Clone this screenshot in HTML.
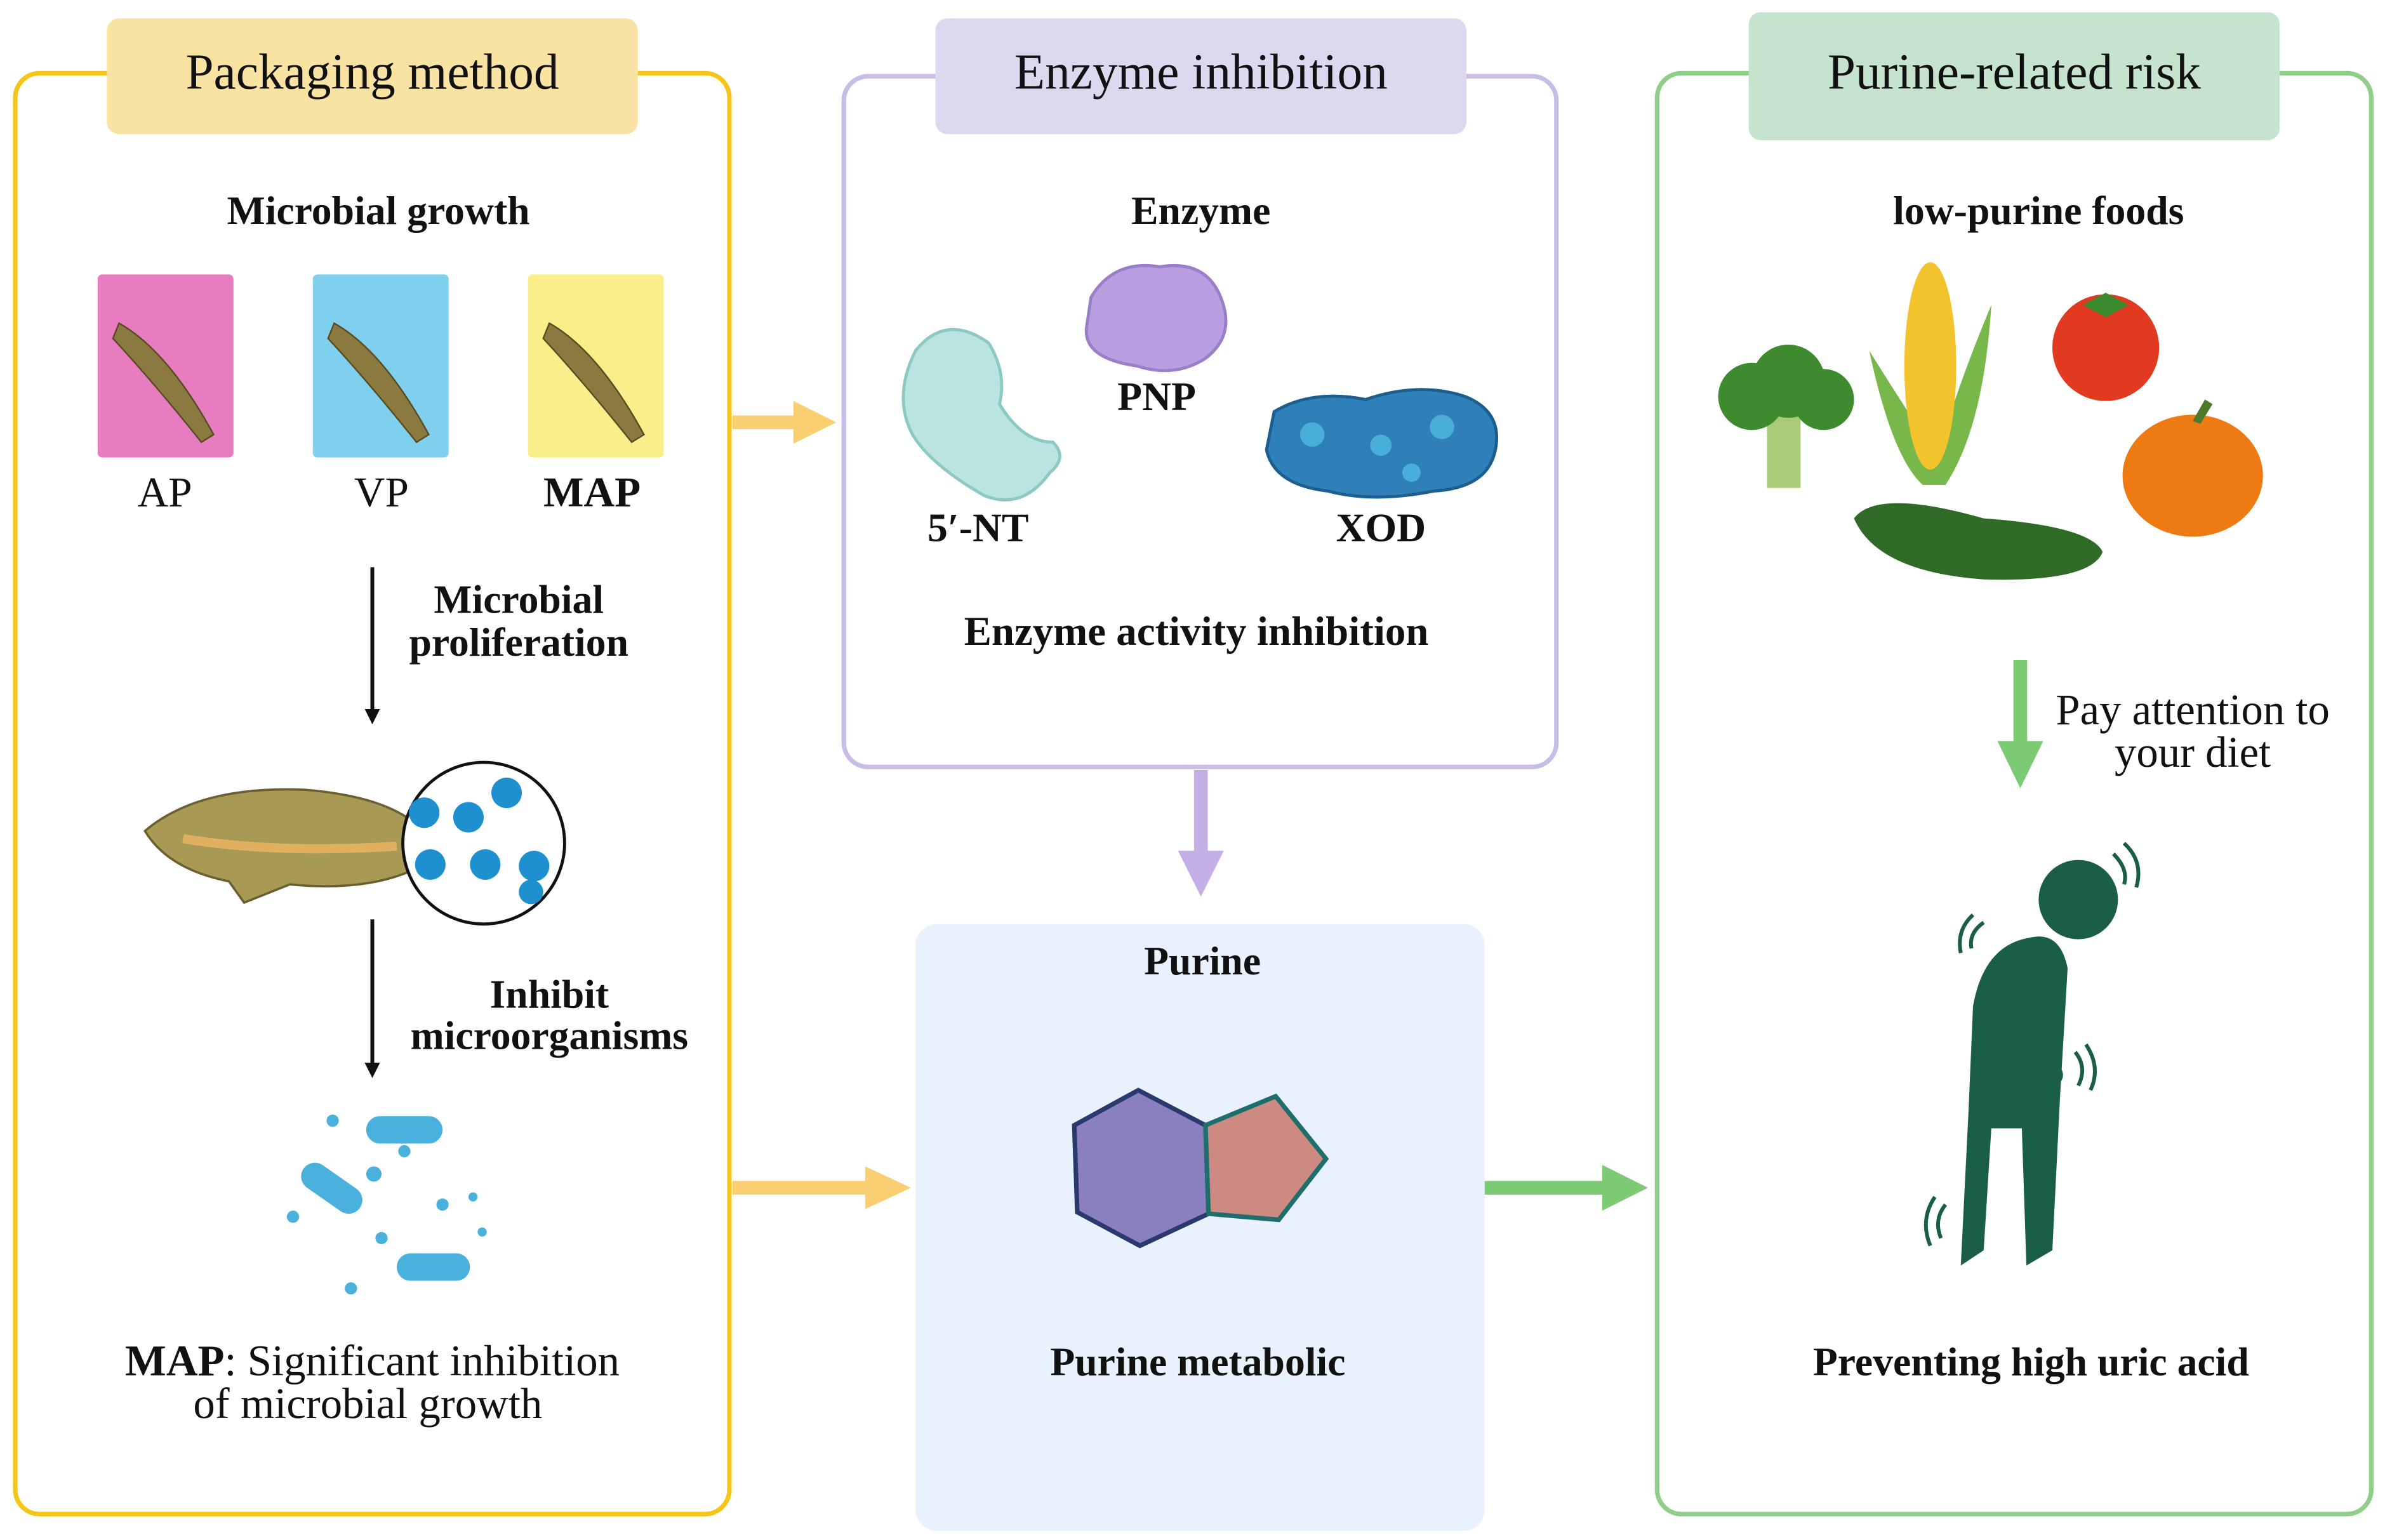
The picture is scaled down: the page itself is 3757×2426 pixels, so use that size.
<!DOCTYPE html>
<html><head><meta charset="utf-8">
<style>
html,body{margin:0;padding:0;background:#fff;}
svg{display:block;}
text{font-family:"Liberation Serif",serif;fill:#111;}
</style></head>
<body>
<svg width="3757" height="2426" viewBox="0 0 1563 1010" preserveAspectRatio="none" xmlns="http://www.w3.org/2000/svg">
<defs>
<marker id="ab" markerWidth="10" markerHeight="10" refX="5" refY="5" orient="auto" markerUnits="userSpaceOnUse"><path d="M0,0 L10,5 L0,10 z" fill="#111"/></marker>
</defs>
<rect x="10" y="48" width="468" height="945" rx="16" fill="none" stroke="#f5c518" stroke-width="3"/>
<rect x="70" y="12" width="348" height="76" rx="8" fill="#f9e3a3"/>
<text x="244" y="58" font-size="33" text-anchor="middle">Packaging method</text>

<rect x="553" y="50" width="467" height="453" rx="16" fill="none" stroke="#c9bde8" stroke-width="3"/>
<rect x="613" y="12" width="348" height="76" rx="8" fill="#ddd8f0"/>
<text x="787" y="58" font-size="33" text-anchor="middle">Enzyme inhibition</text>

<rect x="600" y="606" width="373" height="398" rx="14" fill="#e9f1fc"/>

<rect x="1086" y="48" width="468" height="945" rx="16" fill="none" stroke="#8fcf8a" stroke-width="3"/>
<rect x="1146" y="8" width="348" height="84" rx="8" fill="#c5e3cd"/>
<text x="1320" y="58" font-size="33" text-anchor="middle">Purine-related risk</text>

<text x="248" y="147" font-size="26.5" font-weight="bold" text-anchor="middle">Microbial growth</text>
<g>
<rect x="64" y="180" width="89" height="120" rx="3" fill="#e77cc0"/>
<rect x="205" y="180" width="89" height="120" rx="3" fill="#7fd0ee"/>
<rect x="346" y="180" width="89" height="120" rx="3" fill="#f8ef8a"/>
<g fill="#8a7a40" stroke="#5a4a20" stroke-width="1">
<path d="M78,212 Q110,230 140,285 L132,290 Q100,250 74,222 z"/>
<path d="M219,212 Q251,230 281,285 L273,290 Q241,250 215,222 z"/>
<path d="M360,212 Q392,230 422,285 L414,290 Q382,250 356,222 z"/>
</g>
</g>
<text x="108" y="332" font-size="28" text-anchor="middle">AP</text>
<text x="250" y="332" font-size="28" text-anchor="middle">VP</text>
<text x="388" y="332" font-size="28" font-weight="bold" text-anchor="middle">MAP</text>

<line x1="244" y1="372" x2="244" y2="470" stroke="#111" stroke-width="2.5" marker-end="url(#ab)"/>
<text x="340" y="402" font-size="26.5" font-weight="bold" text-anchor="middle">Microbial</text>
<text x="340" y="430" font-size="26.5" font-weight="bold" text-anchor="middle">proliferation</text>

<path d="M95,545 Q130,515 200,518 Q250,522 272,540 L272,570 Q240,585 190,580 L160,592 L150,578 Q110,570 95,545 z" fill="#a89a55" stroke="#6b5e30" stroke-width="1.5"/>
<path d="M120,550 Q180,560 260,555" stroke="#e0b060" stroke-width="6" fill="none"/>
<circle cx="317" cy="553" r="53" fill="#fff" stroke="#111" stroke-width="2"/>
<g fill="#1e90d0">
<circle cx="278" cy="533" r="10"/><circle cx="307" cy="536" r="10"/><circle cx="332" cy="520" r="10"/>
<circle cx="282" cy="567" r="10"/><circle cx="318" cy="567" r="10"/><circle cx="350" cy="568" r="10"/><circle cx="348" cy="585" r="8"/>
</g>

<line x1="244" y1="603" x2="244" y2="702" stroke="#111" stroke-width="2.5" marker-end="url(#ab)"/>
<text x="360" y="661" font-size="26.5" font-weight="bold" text-anchor="middle">Inhibit</text>
<text x="360" y="688" font-size="26.5" font-weight="bold" text-anchor="middle">microorganisms</text>

<g fill="#4ab0dc">
<rect x="240" y="732" width="50" height="18" rx="9"/>
<rect x="195" y="770" width="45" height="18" rx="9" transform="rotate(35 217 779)"/>
<rect x="260" y="822" width="48" height="18" rx="9"/>
<circle cx="218" cy="735" r="4"/><circle cx="245" cy="770" r="5"/><circle cx="265" cy="755" r="4"/><circle cx="290" cy="790" r="4"/>
<circle cx="310" cy="785" r="3"/><circle cx="192" cy="798" r="4"/><circle cx="230" cy="845" r="4"/><circle cx="250" cy="812" r="4"/><circle cx="316" cy="808" r="3"/>
</g>
<text x="244" y="902" font-size="28.6" text-anchor="middle"><tspan font-weight="bold">MAP</tspan>: Significant inhibition</text>
<text x="241" y="930" font-size="28.6" text-anchor="middle">of microbial growth</text>

<line x1="480" y1="277" x2="525" y2="277" stroke="#f9cf72" stroke-width="9"/>
<path d="M520,263 L548,277 L520,291 z" fill="#f9cf72"/>
<line x1="480" y1="779" x2="572" y2="779" stroke="#f9cf72" stroke-width="9"/>
<path d="M567,765 L597,779 L567,793 z" fill="#f9cf72"/>
<line x1="787" y1="505" x2="787" y2="562" stroke="#c3aee6" stroke-width="9"/>
<path d="M772,558 L787,588 L802,558 z" fill="#c3aee6"/>
<line x1="973" y1="779" x2="1055" y2="779" stroke="#7ccb74" stroke-width="9"/>
<path d="M1050,764 L1080,779 L1050,794 z" fill="#7ccb74"/>
<line x1="1324" y1="433" x2="1324" y2="490" stroke="#7ccb74" stroke-width="9"/>
<path d="M1309,486 L1324,517 L1339,486 z" fill="#7ccb74"/>

<text x="787" y="147" font-size="26.5" font-weight="bold" text-anchor="middle">Enzyme</text>
<path d="M600,230 Q620,205 648,225 Q660,245 655,265 Q670,290 690,290 Q700,300 688,310 Q670,335 645,325 Q610,305 598,285 Q585,260 600,230 z" fill="#b9e4e0" stroke="#8cc8c4" stroke-width="2"/>
<path d="M715,195 Q730,170 760,175 Q790,170 800,195 Q810,220 790,235 Q770,248 745,240 Q710,235 712,215 z" fill="#b79ee0" stroke="#9a7fc8" stroke-width="2"/>
<path d="M835,270 Q860,255 895,262 Q930,250 960,260 Q985,270 980,295 Q975,320 940,322 Q900,330 870,322 Q835,318 830,295 z" fill="#2f7fb8" stroke="#1d5e8e" stroke-width="2"/>
<g fill="#48b0d8"><circle cx="860" cy="285" r="8"/><circle cx="905" cy="292" r="7"/><circle cx="945" cy="280" r="8"/><circle cx="925" cy="310" r="6"/></g>
<text x="758" y="269" font-size="26.5" font-weight="bold" text-anchor="middle">PNP</text>
<text x="641" y="355" font-size="26.5" font-weight="bold" text-anchor="middle">5′-NT</text>
<text x="905" y="355" font-size="26.5" font-weight="bold" text-anchor="middle">XOD</text>
<text x="784" y="423" font-size="27" font-weight="bold" text-anchor="middle">Enzyme activity inhibition</text>

<text x="788" y="639" font-size="26.5" font-weight="bold" text-anchor="middle">Purine</text>
<polygon points="746,715 790,738 792,796 747,817 706,795 704,738" fill="#8a80bf" stroke="#2a3a6e" stroke-width="3"/>
<polygon points="790,738 836,719 869,760 838,800 792,796" fill="#cd8a80" stroke="#1f6e6e" stroke-width="3"/>
<text x="785" y="902" font-size="26.5" font-weight="bold" text-anchor="middle">Purine metabolic</text>

<text x="1336" y="147" font-size="26.5" font-weight="bold" text-anchor="middle">low-purine foods</text>
<g>
<rect x="1158" y="265" width="22" height="55" fill="#a8cc78"/>
<circle cx="1148" cy="260" r="22" fill="#3e8a2e"/><circle cx="1172" cy="250" r="24" fill="#3e8a2e"/><circle cx="1195" cy="262" r="20" fill="#3e8a2e"/>
<path d="M1225,230 Q1240,300 1260,318 L1275,318 Q1300,280 1305,200 Q1280,260 1270,300 Q1250,270 1225,230 z" fill="#78b84a"/>
<ellipse cx="1265" cy="240" rx="17" ry="68" fill="#f3c32e"/>
<circle cx="1380" cy="228" r="35" fill="#e23a20"/>
<path d="M1365,200 L1380,192 L1395,200 L1380,208 z" fill="#3a8a2e"/>
<path d="M1215,340 Q1230,320 1300,340 Q1370,345 1378,362 Q1370,382 1300,380 Q1230,375 1215,340 z" fill="#2f6a26"/>
<ellipse cx="1437" cy="312" rx="46" ry="40" fill="#ee7a14"/>
<path d="M1437,276 L1445,262 L1450,265 L1442,278" fill="#4a7a2a"/>
</g>
<text x="1437" y="475" font-size="28.6" text-anchor="middle">Pay attention to</text>
<text x="1437" y="503" font-size="28.6" text-anchor="middle">your diet</text>

<g fill="#1b5e48" stroke="#1b5e48">
<circle cx="1362" cy="590" r="26" stroke="none"/>
<path d="M1330,615 Q1350,610 1355,635 L1350,720 L1345,820 L1328,830 L1325,740 L1305,740 L1300,820 L1285,830 L1290,730 L1293,660 Q1300,620 1330,615 z" stroke="none"/>
<path d="M1325,640 L1310,690 L1345,705" fill="none" stroke-width="14" stroke-linecap="round"/>
</g>
<g fill="none" stroke="#1b5e48" stroke-width="2.5">
<path d="M1385,560 Q1395,570 1392,580"/><path d="M1392,553 Q1405,565 1400,582"/>
<path d="M1300,605 Q1290,612 1292,622"/><path d="M1293,600 Q1282,610 1285,625"/>
<path d="M1360,690 Q1368,700 1362,712"/><path d="M1367,685 Q1377,700 1370,715"/>
<path d="M1275,790 Q1267,800 1272,812"/><path d="M1268,785 Q1258,800 1265,817"/>
</g>
<text x="1331" y="902" font-size="26.5" font-weight="bold" text-anchor="middle">Preventing high uric acid</text>
</svg>
</body></html>
